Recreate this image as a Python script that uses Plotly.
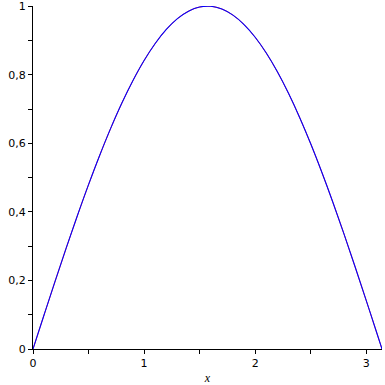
import plotly.graph_objects as go

x_vals = [0, 0.1, 0.2, 0.3, 0.4, 0.5, 0.6, 0.7, 0.8, 0.9, 1.0, 1.1, 1.2, 1.3, 1.4, 1.5,
          1.6, 1.7, 1.8, 1.9, 2.0, 2.1, 2.2, 2.3, 2.4, 2.5, 2.6, 2.7, 2.8, 2.9, 3.0, 3.1, 3.1416]
red_vals = [0, 0.0998, 0.1987, 0.2955, 0.3894, 0.4794, 0.5646, 0.6442, 0.7174, 0.7833, 0.8415,
            0.8912, 0.9320, 0.9636, 0.9854, 0.9975, 0.9996, 0.9917, 0.9738, 0.9463, 0.9093,
            0.8632, 0.8085, 0.7457, 0.6755, 0.5985, 0.5155, 0.4274, 0.3350, 0.2392, 0.1411,
            0.0416, 0]
blue_vals = [0, 0.0998, 0.1987, 0.2955, 0.3894, 0.4794, 0.5646, 0.6442, 0.7174, 0.7833, 0.8415,
             0.8912, 0.9320, 0.9636, 0.9854, 0.9975, 0.9996, 0.9917, 0.9738, 0.9463, 0.9093,
             0.8632, 0.8085, 0.7457, 0.6755, 0.5985, 0.5155, 0.4274, 0.3350, 0.2392, 0.1411,
             0.0416, 0]
x_ticks = [0, 1, 2, 3]
y_ticks = [0, 0.2, 0.4, 0.6, 0.8, 1]

fig = go.Figure()
fig.add_trace(go.Scatter(x=x_vals, y=red_vals, mode="lines",
                         line=dict(color="#ff0000", width=0.8, shape="spline")))
fig.add_trace(go.Scatter(x=x_vals, y=blue_vals, mode="lines",
                         line=dict(color="#0000ff", width=1.1, shape="spline")))

tickfont = dict(family="DejaVu Sans, Arial", size=11, color="black")
fig.update_layout(
    width=385, height=385,
    margin=dict(l=33, r=3, t=6, b=36),
    paper_bgcolor="white", plot_bgcolor="white",
    showlegend=False,
    separators=",.",
    xaxis=dict(range=[0, 3.1416], tickvals=x_ticks, ticks="outside", ticklen=4,
               tickcolor="black", showline=True, linecolor="black", linewidth=1,
               showgrid=False, zeroline=False, tickfont=tickfont, automargin=False,
               minor=dict(dtick=0.5, tick0=0, ticks="outside", ticklen=4, tickcolor="black"),
               title=dict(text="<i>x</i>", font=dict(family="Liberation Serif", size=12, color="black"),
                          standoff=11)),
    yaxis=dict(range=[0, 1.0005], tickvals=y_ticks, ticks="outside", ticklen=4,
               tickcolor="black", showline=True, linecolor="black", linewidth=1,
               showgrid=False, zeroline=False, tickfont=tickfont, automargin=False,
               minor=dict(dtick=0.1, tick0=0, ticks="outside", ticklen=4, tickcolor="black")),
)
fig.write_html("out.html")
